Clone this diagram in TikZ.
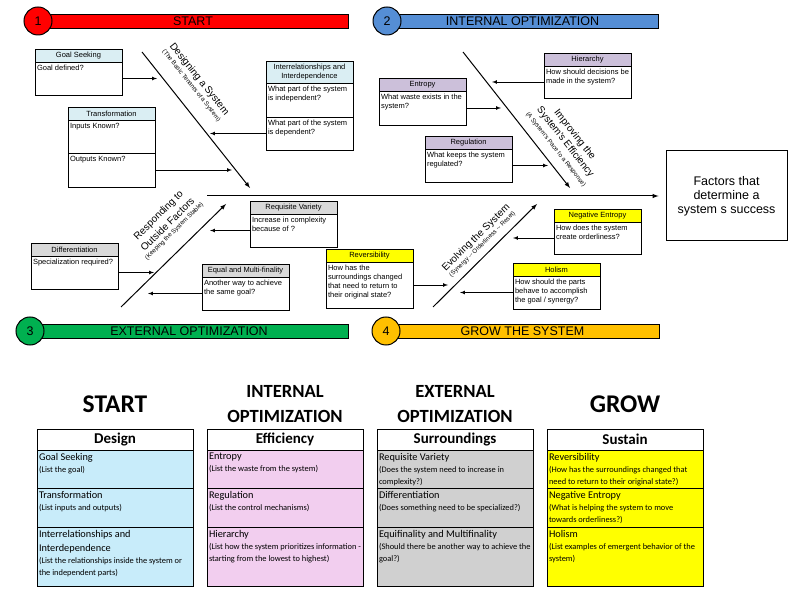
\documentclass[tikz,border=0pt]{standalone}
\usepackage{fontspec}
\setmainfont{Liberation Sans}
\newfontfamily\tabfont{Carlito}
\usetikzlibrary{positioning}

\definecolor{startred}{RGB}{255,0,0}
\definecolor{intblue}{RGB}{85,142,213}
\definecolor{extgreen}{RGB}{0,176,80}
\definecolor{groworange}{RGB}{255,192,0}
\definecolor{designhd}{RGB}{218,238,243}
\definecolor{effhd}{RGB}{204,192,218}
\definecolor{surrhd}{RGB}{217,217,217}
\definecolor{sustainhd}{RGB}{255,255,0}
\definecolor{designrow}{RGB}{200,236,250}
\definecolor{effrow}{RGB}{242,206,239}
\definecolor{surrrow}{RGB}{208,208,208}

\newcommand\boxfont{\fontsize{7.5}{9}\selectfont}
\newcommand\bonesubfont{\fontsize{6.2}{7}\selectfont}
\newcommand\rowtitle{\tabfont\fontsize{10.3}{14.5}\selectfont}
\newcommand\rowsub{\tabfont\fontsize{8.4}{12}\selectfont}
\newcommand\qtext[2]{\parbox[t][#1][t]{83pt}{\raggedright #2}}
\newcommand\rowtext[2]{\parbox[t][#1][t]{152pt}{\raggedright #2}}

\tikzset{
  bar/.style={draw, line width=0.9pt, minimum height=14pt, inner sep=0pt, font=\fontsize{12.5}{14}\selectfont},
  num/.style={circle, draw, line width=1pt, minimum size=28pt, inner sep=0pt, font=\fontsize{12.5}{14}\selectfont},
  hdr/.style={draw, line width=0.8pt, minimum width=87pt, minimum height=13pt, inner sep=0pt, outer sep=0pt, anchor=north west, font=\boxfont, align=center},
  qbox/.style={draw, line width=0.8pt, inner xsep=2pt, inner ysep=3pt, outer sep=0pt, anchor=north west, font=\boxfont},
  bone/.style={line width=1pt, -latex},
  arr/.style={line width=0.7pt, -latex},
  bonelbl/.style={align=center, inner sep=0pt, font=\fontsize{10}{12}\selectfont},
  bighead/.style={font=\tabfont\bfseries\fontsize{25.5}{27}\selectfont, align=center, inner sep=0pt},
  midhead/.style={font=\tabfont\bfseries\fontsize{18.6}{25}\selectfont, align=center, inner sep=0pt},
  colhead/.style={draw, fill=white, line width=0.8pt, minimum width=156pt, minimum height=21pt, inner sep=0pt, outer sep=0pt, anchor=north west, font=\tabfont\bfseries\fontsize{15}{17}\selectfont},
  cell/.style={draw, line width=0.8pt, inner xsep=2pt, inner ysep=3pt, outer sep=0pt, anchor=north west}
}

\begin{document}
\begin{tikzpicture}[x=1pt,y=-1pt]
\path[use as bounding box, fill=white] (0,0) rectangle (800,601);

% phase banners
\node[bar, fill=startred, minimum width=310pt] (bar1) at (193,21) {START};
\node[num, fill=startred] (num1) at (38,21) {1};
\node[bar, fill=intblue, minimum width=271pt] (bar2) at (522.5,21) {INTERNAL OPTIMIZATION};
\node[num, fill=intblue] (num2) at (387,21) {2};
\node[bar, fill=extgreen, minimum width=318pt] (bar3) at (189,331) {EXTERNAL OPTIMIZATION};
\node[num, fill=extgreen] (num3) at (30,331) {3};
\node[bar, fill=groworange, minimum width=273pt] (bar4) at (522.5,331) {GROW THE SYSTEM};
\node[num, fill=groworange] (num4) at (386,331) {4};

% effect and spine
\node[draw, line width=1pt, minimum width=121pt, minimum height=90pt, align=center, font=\fontsize{12.5}{14}\selectfont] (effect) at (726.5,196) {Factors that\\determine a\\system s success};
\coordinate (spine) at (207,196);
\draw[bone] (spine) -- ([xshift=-7pt]effect.west);

% bones
\coordinate (b1s) at (142,52);  \coordinate (b1e) at (250,188);
\coordinate (b2s) at (463,52);  \coordinate (b2e) at (570,188);
\coordinate (b3s) at (121,307); \coordinate (b3e) at (226,204);
\coordinate (b4s) at (433,307); \coordinate (b4e) at (537,204);
\draw[bone] (b1s) -- (b1e);
\draw[bone] (b2s) -- (b2e);
\draw[bone] (b3s) -- (b3e);
\draw[bone] (b4s) -- (b4e);

\node[bonelbl, rotate=-51.5] (lbl1) at (195.9,82) {Designing a System\\[-3pt]{\bonesubfont (The Basic Tenants of a System)}};
\node[bonelbl, rotate=-51.8] (lbl2) at (565.8,141.5) {Improving the\\System's Efficiency\\[-1pt]{\bonesubfont (A System's Pace to a Response)}};
\node[bonelbl, rotate=44.5] (lbl3) at (166,222.9) {Responding to\\[1pt]Outside Factors\\[-4pt]{\bonesubfont (Keeping the System Stable)}};
\node[bonelbl, rotate=44.7] (lbl4) at (478.7,240.5) {Evolving the System\\[-4pt]{\bonesubfont (Synergy -{}- Orderliness -{}- Reset)}};

% design boxes
\node[hdr, fill=designhd] (goalH) at (35,49) {Goal Seeking};
\node[qbox] (goalQ) at (goalH.south west) {\qtext{27pt}{Goal defined?}};
\node[hdr, fill=designhd] (transH) at (68,107) {Transformation};
\node[qbox] (transQa) at (transH.south west) {\qtext{27pt}{Inputs Known?}};
\node[qbox] (transQb) at (transQa.south west) {\qtext{28pt}{Outputs Known?}};
\node[hdr, fill=designhd, minimum height=22pt] (interH) at (266,61) {Interrelationships and\\Interdependence};
\node[qbox] (interQa) at (interH.south west) {\qtext{28pt}{What part of the system\\is independent?}};
\node[qbox] (interQb) at (interQa.south west) {\qtext{27pt}{What part of the system\\is dependent?}};

% efficiency boxes
\node[hdr, fill=effhd] (entH) at (379,78) {Entropy};
\node[qbox] (entQ) at (entH.south west) {\qtext{28pt}{What waste exists in the\\system?}};
\node[hdr, fill=effhd] (hierH) at (544,53) {Hierarchy};
\node[qbox] (hierQ) at (hierH.south west) {\qtext{26pt}{How should decisions be\\made in the system?}};
\node[hdr, fill=effhd] (regH) at (425,136) {Regulation};
\node[qbox] (regQ) at (regH.south west) {\qtext{27pt}{What keeps the system\\regulated?}};

% surroundings boxes
\node[hdr, fill=surrhd] (reqH) at (250,201) {Requisite Variety};
\node[qbox] (reqQ) at (reqH.south west) {\qtext{27pt}{Increase in complexity\\because of ?}};
\node[hdr, fill=surrhd] (diffH) at (31,243) {Differentiation};
\node[qbox] (diffQ) at (diffH.south west) {\qtext{27pt}{Specialization required?}};
\node[hdr, fill=surrhd] (equalH) at (202,264) {Equal and Multi-finality};
\node[qbox] (equalQ) at (equalH.south west) {\qtext{27pt}{Another way to achieve\\the same goal?}};

% sustain boxes
\node[hdr, fill=sustainhd] (revH) at (326,249) {Reversibility};
\node[qbox] (revQ) at (revH.south west) {\qtext{40pt}{How has the\\surroundings changed\\that need to return to\\their original state?}};
\node[hdr, fill=sustainhd] (negH) at (554,209) {Negative Entropy};
\node[qbox] (negQ) at (negH.south west) {\qtext{26pt}{How does the system\\create orderliness?}};
\node[hdr, fill=sustainhd] (holH) at (513,263) {Holism};
\node[qbox] (holQ) at (holH.south west) {\qtext{27pt}{How should the parts\\behave to accomplish\\the goal / synergy?}};

% arrows into the bones
\draw[arr] (goalQ.east) -- ++(35,0);
\draw[arr] (transQb.east) -- ++(77,0);
\draw[arr] (interQb.west) -- ++(-56,0);
\draw[arr] (entQ.east) -- ++(35,0);
\draw[arr] (hierQ.west) -- ++(-52,0);
\draw[arr] (regQ.east) -- ++(36,0);
\draw[arr] (reqQ.west) -- ++(-40,0);
\draw[arr] (diffQ.east) -- ++(36,0);
\draw[arr] (equalQ.west) -- ++(-54,0);
\draw[arr] (revQ.east) -- ++(35,0);
\draw[arr] (negQ.west) -- ++(-41,0);
\draw[arr] (holQ.west) -- ++(-53,0);

% summary tables
\node[bighead] (hStart) at (115,404) {START};
\node[midhead] (hInt) at (285,404) {INTERNAL\\OPTIMIZATION};
\node[midhead] (hExt) at (455,404) {EXTERNAL\\OPTIMIZATION};
\node[bighead] (hGrow) at (625,404) {GROW};

\node[colhead] (tDesign) at (37,429) {Design};
\node[cell, fill=designrow] (tDesignA) at (tDesign.south west) {\rowtext{32pt}{\rowtitle Goal Seeking\par\rowsub (List the goal)}};
\node[cell, fill=designrow] (tDesignB) at (tDesignA.south west) {\rowtext{33pt}{\rowtitle Transformation\par\rowsub (List inputs and outputs)}};
\node[cell, fill=designrow] (tDesignC) at (tDesignB.south west) {\rowtext{53pt}{\rowtitle Interrelationships and\\Interdependence\par\rowsub (List the relationships inside the system or\\the independent parts)}};

\node[colhead] (tEff) at (207,429) {Efficiency};
\node[cell, fill=effrow] (tEffA) at (tEff.south west) {\rowtext{32pt}{\rowtitle Entropy\par\rowsub (List the waste from the system)}};
\node[cell, fill=effrow] (tEffB) at (tEffA.south west) {\rowtext{33pt}{\rowtitle Regulation\par\rowsub (List the control mechanisms)}};
\node[cell, fill=effrow] (tEffC) at (tEffB.south west) {\rowtext{53pt}{\rowtitle Hierarchy\par\rowsub (List how the system prioritizes information -\\starting from the lowest to highest)}};

\node[colhead] (tSurr) at (377,429) {Surroundings};
\node[cell, fill=surrrow] (tSurrA) at (tSurr.south west) {\rowtext{32pt}{\rowtitle Requisite Variety\par\rowsub (Does the system need to increase in\\complexity?)}};
\node[cell, fill=surrrow] (tSurrB) at (tSurrA.south west) {\rowtext{33pt}{\rowtitle Differentiation\par\rowsub (Does something need to be specialized?)}};
\node[cell, fill=surrrow] (tSurrC) at (tSurrB.south west) {\rowtext{53pt}{\rowtitle Equifinality and Multifinality\par\rowsub (Should there be another way to achieve the\\goal?)}};

\node[colhead] (tSust) at (547,429) {Sustain};
\node[cell, fill=sustainhd] (tSustA) at (tSust.south west) {\rowtext{32pt}{\rowtitle Reversibility\par\rowsub (How has the surroundings changed that\\need to return to their original state?)}};
\node[cell, fill=sustainhd] (tSustB) at (tSustA.south west) {\rowtext{33pt}{\rowtitle Negative Entropy\par\rowsub (What is helping the system to move\\towards orderliness?)}};
\node[cell, fill=sustainhd] (tSustC) at (tSustB.south west) {\rowtext{53pt}{\rowtitle Holism\par\rowsub (List examples of emergent behavior of the\\system)}};
\end{tikzpicture}
\end{document}
